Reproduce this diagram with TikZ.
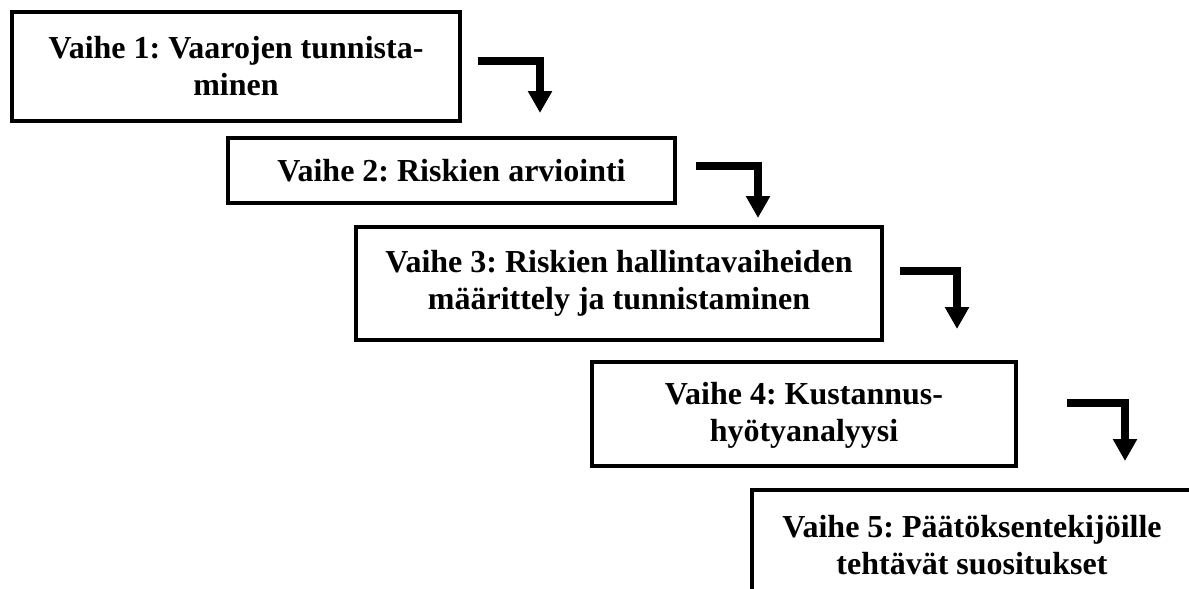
\documentclass[tikz,border=0pt]{standalone}
\usepackage{fontspec}
\setmainfont{Liberation Serif}
\usetikzlibrary{arrows.meta}
\frenchspacing

\tikzset{
  stage/.style={draw, line width=1.75pt, align=center, inner sep=0pt,
    font=\fontsize{16}{18.5}\selectfont\bfseries},
  flow/.style={line width=4pt, line join=miter,
    -{Triangle[width=11.5pt,length=11pt]}}
}

\begin{document}
\begin{tikzpicture}[x=0.5pt, y=-0.5pt]
  \useasboundingbox (0,0) rectangle (1189,589);
  \clip (0,0) rectangle (1189,589);

  % the five stages, stepping down to the right
  \node[stage, minimum width=224pt, minimum height=54.5pt] (b1) at (236,66.5)
    {Vaihe 1: Vaarojen tunnista-\\minen};
  \node[stage, minimum width=223.5pt, minimum height=32.5pt] (b2) at (451.5,170.5)
    {Vaihe 2: Riskien arviointi};
  \node[stage, minimum width=263pt, minimum height=56.5pt] (b3) at (619,283.5)
    {Vaihe 3: Riskien hallintavaiheiden\\määrittely ja tunnistaminen};
  \node[stage, minimum width=212pt, minimum height=52pt, text depth=2pt] (b4) at (804,414)
    {Vaihe 4: Kustannus-\\hyötyanalyysi};
  \node[stage, minimum width=220pt, text depth=30pt, inner ysep=13pt, anchor=north] (b5) at (972,488)
    {Vaihe 5: Päätöksentekijöille\\tehtävät suositukset};

  % bent arrows between consecutive stages
  \coordinate (s1) at (478,61);   \coordinate (t1) at (540,113);
  \coordinate (s2) at (696,166);  \coordinate (t2) at (758,218);
  \coordinate (s3) at (900,271);  \coordinate (t3) at (957,329);
  \coordinate (s4) at (1067,403); \coordinate (t4) at (1125,461);

  \draw[flow] (s1) -| (t1);
  \draw[flow] (s2) -| (t2);
  \draw[flow] (s3) -| (t3);
  \draw[flow] (s4) -| (t4);
\end{tikzpicture}
\end{document}
